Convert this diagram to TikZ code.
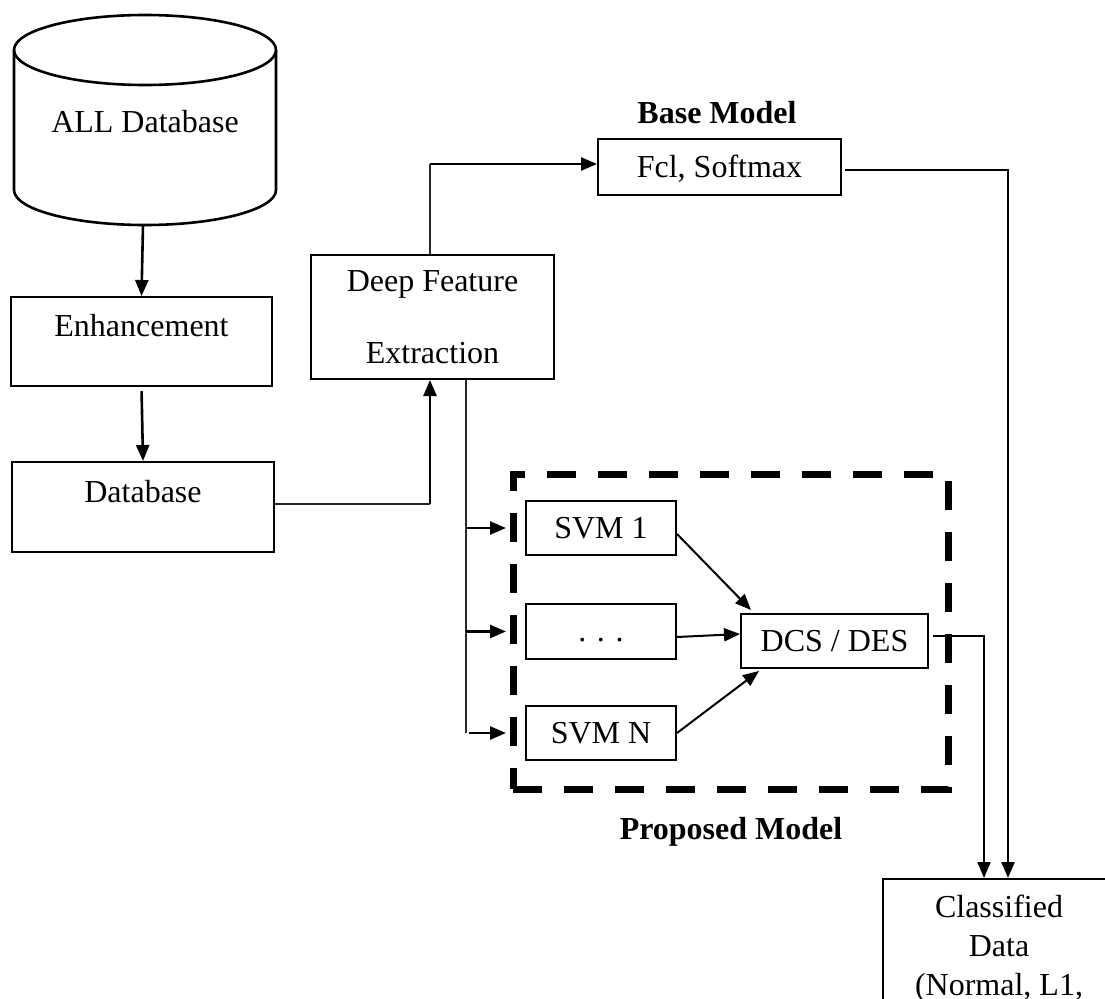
\documentclass[tikz,border=0pt]{standalone}
\usepackage{fontspec}
\setmainfont{Liberation Serif}
\usetikzlibrary{arrows.meta,calc}

\begin{document}
\begin{tikzpicture}[x=1pt,y=-1pt,
  every node/.style={font=\fontsize{32}{39}\selectfont},
  box/.style={draw, line width=2pt, inner sep=0pt},
  oneline/.style={box, text height=22pt, text depth=#1},
  oneline/.default=1pt,
  arr/.style={line width=2.6pt, -{Triangle[length=16pt,width=13pt]}},
  feed/.style={line width=1.4pt, draw=black!85},
  frame/.style={draw, line width=7pt, dash pattern=on 29pt off 22pt, inner sep=0pt},
  title/.style={font=\fontsize{32}{39}\selectfont\bfseries}]

\useasboundingbox (0,0) rectangle (1105,998);
\clip (0,0) rectangle (1105,998);

% source database drawn as a cylinder
\draw[line width=2.6pt] (145,50) ellipse [x radius=131pt, y radius=35pt];
\draw[line width=2.6pt] (14,50) -- (14,190)
  arc [start angle=180, end angle=360, x radius=131pt, y radius=35pt] -- (276,50);
\node (alldb) at (145,122) {ALL Database};
\coordinate (alldbbot) at (143,225);

% preprocessing chain
\node[oneline=32pt, minimum width=261pt, minimum height=89pt] (enh) at (141.5,341.5) {Enhancement};
\node[oneline=31pt, minimum width=262pt, minimum height=90pt] (db) at (143,507) {Database};

% feature extractor
\node[box, align=center, minimum width=243pt, minimum height=124pt,
      font=\fontsize{32}{72}\selectfont] (deep) at (432.5,317) {Deep Feature\\Extraction};

% base model
\node[title] (basemodel) at (717,113) {Base Model};
\node[oneline, minimum width=243pt, minimum height=56pt] (fcl) at (719.5,167) {Fcl, Softmax};

% proposed ensemble
\node[frame, minimum width=435pt, minimum height=315pt] (ens) at (730.5,631.5) {};
\node[oneline, minimum width=150pt, minimum height=54pt] (svm1) at (601,528) {SVM 1};
\node[oneline=3pt, minimum width=150pt, minimum height=55pt] (dots) at (601,631.5) {. . .};
\node[oneline, minimum width=150pt, minimum height=54pt] (svmn) at (601,733) {SVM N};
\node[oneline, minimum width=187pt, minimum height=54pt] (dcs) at (834.5,641) {DCS / DES};
\node[title] (proposed) at (731,832) {Proposed Model};

% output
\node[box, anchor=north, align=center, minimum width=232pt, inner ysep=16pt] (cls) at (999,878)
  {Classified\\Data\\(Normal, L1,};

% connectors
\coordinate (dbj) at (430,504);
\coordinate (dfj) at (430,164);
\coordinate (fbx) at (466,0);
\coordinate (fclj) at (1008,170);
\coordinate (dcsj) at (984,636);

\draw[arr] (alldbbot) -- (enh.north);
\draw[arr, shorten <=4pt] (enh.south) -- (db.north);

\draw[feed] (db.east |- dbj) -- (dbj);
\draw[arr] (dbj) -- (deep.south -| dbj);

\draw[feed] (deep.north -| dfj) -- (dfj);
\draw[arr] (dfj) -- (fcl.west |- dfj);

\draw[arr, shorten <=3pt] (fcl.east |- fclj) -- (fclj) -- (fclj |- cls.north);

\draw[feed] (deep.south -| fbx) -- (fbx |- svmn.west);
\draw[arr, shorten >=19pt] (fbx |- svm1.west) -- (svm1.west);
\draw[arr, shorten >=19pt] (fbx |- dots.west) -- (dots.west);
\draw[arr, shorten >=19pt, shorten <=3pt] (fbx |- svmn.west) -- (svmn.west);

\draw[arr, line width=2pt] ([yshift=-6pt]svm1.east) -- ([xshift=11pt,yshift=3pt]dcs.north west);
\draw[arr, line width=2pt] ([yshift=-5.5pt]dots.east) -- ([yshift=7pt]dcs.west);
\draw[arr, line width=2pt] (svmn.east) -- ([xshift=19pt,yshift=-2pt]dcs.south west);

\draw[arr, line width=2pt, shorten <=4pt] ([yshift=5pt]dcs.east) -- (dcsj) -- (dcsj |- cls.north);
\end{tikzpicture}
\end{document}
